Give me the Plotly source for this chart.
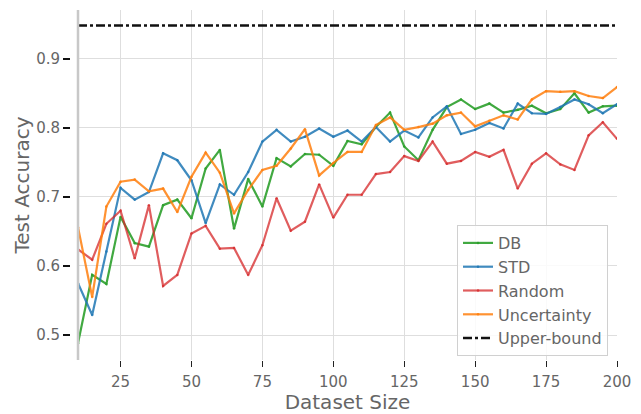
import plotly.graph_objects as go

dataset_size = list(range(10, 201, 5))

db = [0.488, 0.587, 0.574, 0.671, 0.633, 0.628, 0.688, 0.696, 0.669, 0.741,
      0.768, 0.654, 0.726, 0.686, 0.756, 0.744, 0.762, 0.761, 0.745, 0.781,
      0.776, 0.801, 0.822, 0.773, 0.753, 0.797, 0.830, 0.841, 0.827, 0.835,
      0.822, 0.826, 0.832, 0.821, 0.827, 0.850, 0.822, 0.831, 0.832]

std = [0.575, 0.529, 0.621, 0.713, 0.696, 0.707, 0.763, 0.753, 0.724, 0.662,
       0.718, 0.703, 0.736, 0.780, 0.797, 0.780, 0.787, 0.799, 0.787, 0.796,
       0.780, 0.801, 0.780, 0.796, 0.786, 0.815, 0.831, 0.791, 0.797, 0.807,
       0.799, 0.835, 0.821, 0.820, 0.830, 0.841, 0.834, 0.821, 0.834]

random_ = [0.624, 0.609, 0.661, 0.680, 0.611, 0.688, 0.571, 0.587, 0.647, 0.658,
           0.625, 0.626, 0.587, 0.630, 0.698, 0.651, 0.664, 0.718, 0.670, 0.703,
           0.703, 0.733, 0.736, 0.759, 0.752, 0.780, 0.748, 0.752, 0.765, 0.758,
           0.768, 0.712, 0.748, 0.763, 0.747, 0.739, 0.789, 0.808, 0.784]

uncertainty = [0.656, 0.555, 0.686, 0.722, 0.725, 0.708, 0.712, 0.678, 0.729, 0.764,
               0.735, 0.676, 0.710, 0.739, 0.745, 0.770, 0.798, 0.731, 0.749, 0.765,
               0.765, 0.804, 0.815, 0.797, 0.801, 0.806, 0.818, 0.822, 0.802, 0.810,
               0.818, 0.812, 0.841, 0.853, 0.852, 0.853, 0.846, 0.843, 0.859]

upper_bound_value = 0.948
upper_bound = [upper_bound_value] * len(dataset_size)

x_ticks = [25, 50, 75, 100, 125, 150, 175, 200]
y_ticks = [0.5, 0.6, 0.7, 0.8, 0.9]

series = [
    ("DB", db, "rgba(44,160,44,0.9)"),
    ("STD", std, "rgba(31,119,180,0.85)"),
    ("Random", random_, "rgba(214,39,40,0.75)"),
    ("Uncertainty", uncertainty, "rgba(255,127,14,0.85)"),
]

fig = go.Figure()
for name, vals, col in series:
    fig.add_trace(go.Scatter(
        x=dataset_size, y=vals, name=name, mode="lines+markers",
        line=dict(color=col, width=2.2),
        marker=dict(size=2.5, color=col),
    ))
fig.add_trace(go.Scatter(
    x=dataset_size, y=upper_bound, name="Upper-bound", mode="lines",
    line=dict(color="#111111", width=2.5, dash="dashdot"),
))

font_col = "#666666"
W, H = 641, 414
ml, mr, mt, mb = 70, 24, 10, 54
plot_left_px = 78
dom0 = (plot_left_px - ml) / (W - ml - mr)

fig.update_layout(
    width=W, height=H,
    margin=dict(l=ml, r=mr, t=mt, b=mb, pad=0, autoexpand=False),
    paper_bgcolor="white", plot_bgcolor="white",
    font=dict(family="DejaVu Sans", color=font_col, size=15),
    showlegend=True,
    legend=dict(
        x=(608 - ml) / (W - ml - mr), xanchor="right",
        y=(H - mb - 225) / (H - mt - mb), yanchor="top",
        bgcolor="rgba(255,255,255,0.85)", bordercolor="#d0d0d0", borderwidth=1,
        font=dict(size=16, color=font_col),
        tracegroupgap=0,
        entrywidth=122, entrywidthmode="pixels",
    ),
    xaxis=dict(
        domain=[dom0, 1], range=[10, 200], automargin=False,
        tickvals=x_ticks, ticktext=[str(v) for v in x_ticks],
        ticks="outside", ticklen=6, tickwidth=1.2, tickcolor="#222222",
        showgrid=True, gridcolor="#dedede", gridwidth=1,
        showline=False, zeroline=False,
        ticklabelstandoff=2,
        title=dict(text="Dataset Size", font=dict(size=20, color=font_col), standoff=9),
        tickfont=dict(size=15, color=font_col),
    ),
    yaxis=dict(
        anchor="free", position=0, automargin=False,
        range=[0.4638, 0.9705],
        tickvals=y_ticks, ticktext=[f"{v:.1f}" for v in y_ticks],
        ticks="outside", ticklen=7, tickwidth=2, tickcolor="#111111",
        showgrid=True, gridcolor="#dedede", gridwidth=1,
        showline=False, zeroline=False,
        title=dict(text="Test Accuracy", font=dict(size=20, color=font_col), standoff=0),
        tickfont=dict(size=15, color=font_col),
    ),
    shapes=[dict(
        type="line", xref="x domain", yref="y domain",
        x0=0, x1=0, y0=0, y1=1,
        line=dict(color="#c8c8c8", width=2.5), layer="above",
    )],
)

fig.write_html("out.html")
